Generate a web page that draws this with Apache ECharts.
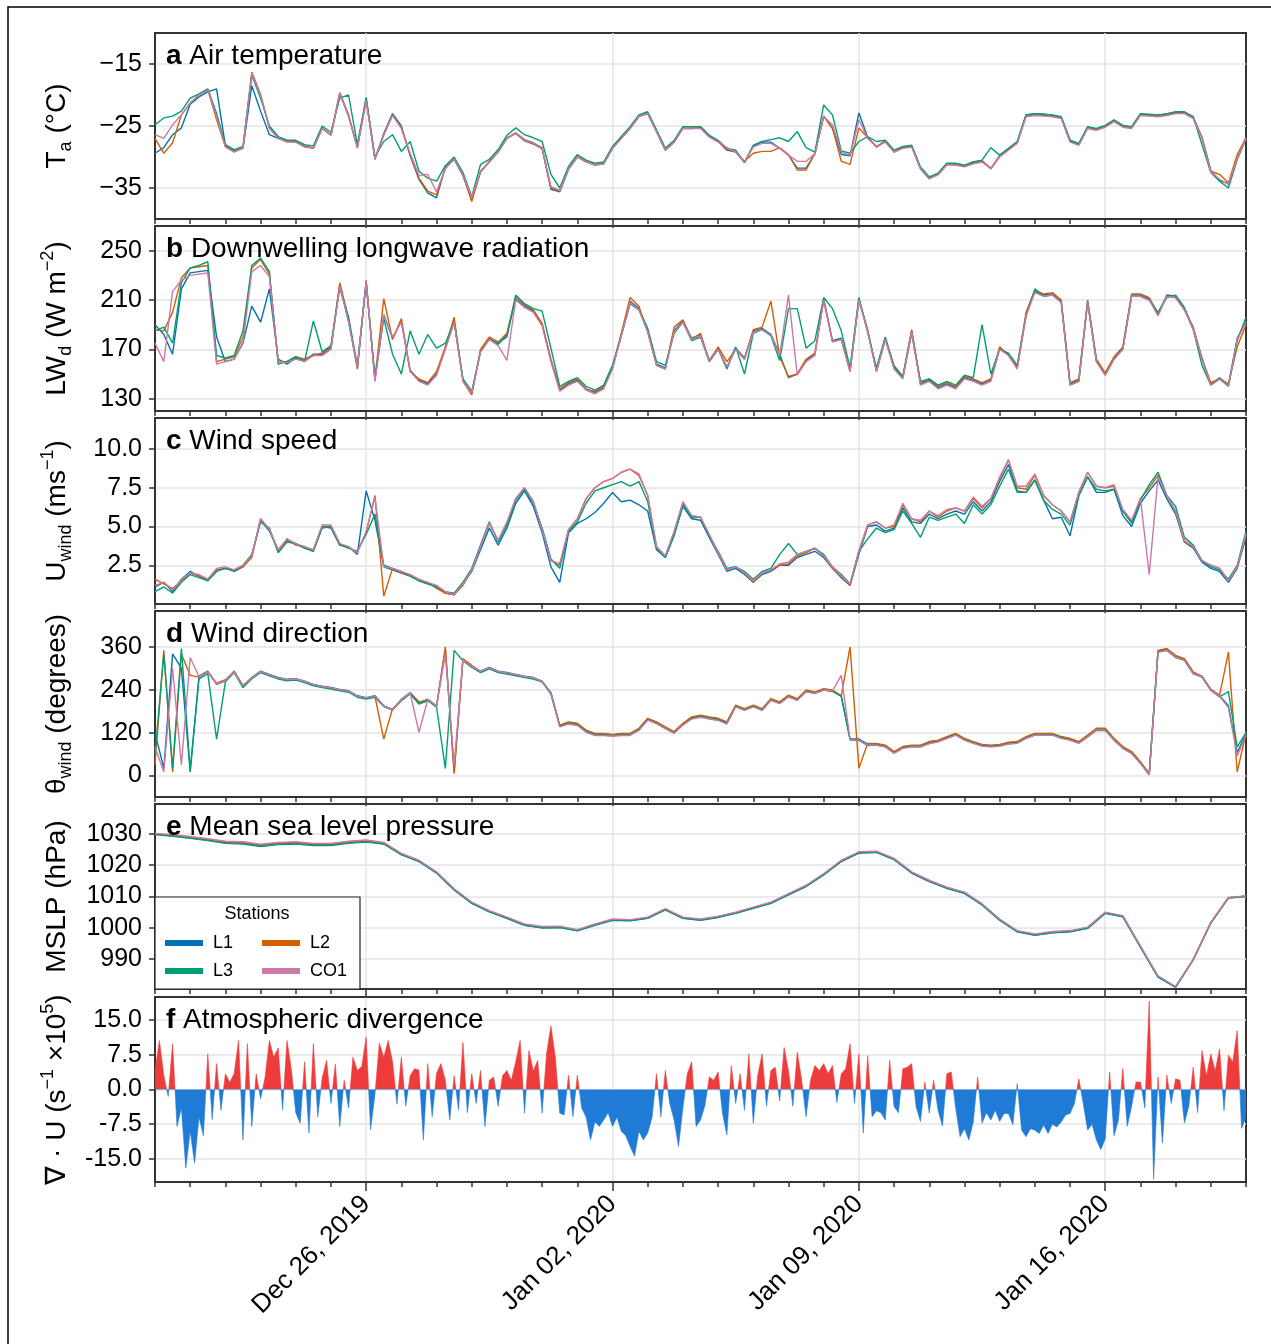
<!DOCTYPE html>
<html><head><meta charset="utf-8">
<script src="https://cdn.jsdelivr.net/npm/echarts@6/dist/echarts.min.js"></script>
<style>html,body{margin:0;padding:0;background:#fff}#c{width:1271px;height:1344px}</style>
</head><body><div id="c"></div><script>
// ---------------- DATA ----------------
const stationNames = ['L1','L2','L3','CO1'];
const xTickDates = ['2019-12-26','2020-01-02','2020-01-09','2020-01-16'];
const xTickLabels = ['Dec 26, 2019','Jan 02, 2020','Jan 09, 2020','Jan 16, 2020'];
const startDate = '2019-12-20';
const spanDays = 31;
const stepStationHours = 6;   // T, LW, wind speed, wind direction
const stepPressureHours = 12; // MSLP
const stepDivHours = 3;       // divergence

const taTicks = [-35,-25,-15];  const taTickLabels = ['−35','−25','−15'];
const lwTicks = [130,170,210,250]; const lwTickLabels = ['130','170','210','250'];
const wsTicks = [2.5,5,7.5,10]; const wsTickLabels = ['2.5','5.0','7.5','10.0'];
const wdTicks = [0,120,240,360]; const wdTickLabels = ['0','120','240','360'];
const pTicks = [990,1000,1010,1020,1030]; const pTickLabels = ['990','1000','1010','1020','1030'];
const divTicks = [-15,-7.5,0,7.5,15]; const divTickLabels = ['-15.0','-7.5','0.0','7.5','15.0'];

// Air temperature (°C), 6-hourly
const taL1 = [-29.4,-28.5,-26.4,-25.3, -21.5,-20.3,-19.5,-19.0, -28.2,-29.0,-28.6,-18.5, -22.6,-26.4,-27.0,-27.4,
 -27.6,-28.2,-28.6,-25.4, -26.5,-19.8,-23.4,-28.4, -20.6,-30.4,-26.2,-23.0, -25.0,-29.8,-33.6,-35.8,
 -36.6,-31.6,-30.4,-33.0, -37.0,-32.4,-30.8,-29.2, -27.0,-26.2,-27.4,-27.9, -28.7,-35.2,-35.6,-32.0,
 -30.0,-30.8,-31.3,-31.1, -28.6,-27.0,-25.4,-23.5, -23.0,-25.9,-28.9,-27.6, -25.4,-25.4,-25.2,-26.6,
 -27.5,-28.9,-29.2,-30.9, -28.2,-27.6,-27.6,-28.6, -29.7,-31.8,-31.8,-29.5, -23.4,-25.4,-29.6,-29.8,
 -22.9,-26.8,-28.4,-27.4, -29.2,-28.4,-28.2,-31.9, -33.5,-32.7,-31.1,-31.3, -31.4,-30.8,-30.6,-31.9,
 -29.8,-28.7,-27.6,-23.2, -23.0,-23.1,-23.3,-23.6, -27.3,-28.0,-25.2,-25.5, -25.0,-24.1,-25.0,-25.2,
 -23.1,-23.2,-23.3,-23.1, -22.8,-22.8,-23.6,-26.8, -32.2,-33.8,-34.3,-30.3, -26.8];
const taL2 = [-27.0,-29.4,-27.7,-23.2, -21.3,-19.9,-19.1,-24.0, -28.3,-29.1,-28.5,-16.3, -19.9,-25.3,-26.9,-27.5,
 -27.5,-28.3,-28.5,-25.3, -26.4,-19.6,-23.2,-28.5, -20.8,-30.2,-26.4,-23.2, -25.3,-29.6,-33.4,-35.5,
 -36.1,-31.8,-30.2,-32.8, -37.2,-32.3,-30.7,-29.1, -26.9,-26.1,-27.2,-27.7, -28.5,-35.0,-35.5,-31.8,
 -29.9,-30.7,-31.2,-31.0, -28.5,-26.9,-25.3,-23.4, -22.9,-25.8,-28.8,-27.5, -25.3,-25.3,-25.3,-26.7,
 -27.5,-28.8,-29.1,-30.7, -29.4,-29.1,-29.1,-28.5, -29.6,-32.1,-32.1,-29.4, -23.4,-25.3,-30.7,-31.2,
 -25.3,-26.9,-28.3,-27.5, -29.1,-28.5,-28.3,-31.8, -33.4,-32.8,-31.2,-31.2, -31.5,-31.0,-30.7,-31.8,
 -29.9,-28.8,-27.7,-23.4, -23.2,-23.3,-23.4,-23.7, -27.5,-28.0,-25.3,-25.6, -25.1,-24.2,-25.1,-25.3,
 -23.2,-23.3,-23.4,-23.2, -22.9,-22.9,-23.7,-26.9, -32.3,-32.8,-34.2,-29.6, -26.9];
const taL3 = [-24.8,-23.7,-23.4,-22.6, -20.5,-19.8,-19.0,-23.0, -28.0,-28.8,-28.3,-16.8, -20.5,-25.0,-26.7,-27.3,
 -27.3,-28.0,-28.2,-25.0, -26.0,-20.5,-20.0,-28.0, -20.4,-30.0,-27.5,-26.4, -29.1,-27.5,-32.3,-33.4,
 -33.9,-31.4,-30.0,-32.5, -36.4,-31.2,-30.4,-28.8, -26.5,-25.3,-26.4,-26.9, -27.5,-32.8,-35.0,-31.5,
 -29.6,-30.5,-31.0,-30.8, -28.3,-26.7,-25.1,-23.2, -22.7,-25.6,-28.6,-27.3, -25.1,-25.1,-25.1,-26.5,
 -27.3,-28.6,-28.9,-30.9, -28.1,-27.5,-27.2,-26.9, -27.5,-25.9,-28.5,-29.2, -21.6,-23.2,-29.0,-29.4,
 -27.5,-26.7,-27.5,-27.3, -28.9,-28.3,-28.1,-31.6, -33.2,-32.6,-31.0,-31.0, -31.3,-30.8,-30.5,-28.5,
 -29.7,-28.6,-27.5,-23.2, -23.0,-23.1,-23.2,-23.5, -27.3,-27.8,-25.1,-25.4, -24.9,-24.0,-24.9,-25.1,
 -23.0,-23.1,-23.2,-23.0, -22.7,-22.7,-23.5,-28.0, -32.5,-33.9,-35.0,-30.4, -27.1];
const taCO1 = [-26.4,-27.0,-24.8,-23.2, -21.3,-20.0,-19.2,-23.5, -28.4,-29.2,-28.6,-16.5, -20.0,-25.4,-27.0,-27.6,
 -27.6,-28.4,-28.6,-25.4, -26.5,-19.7,-23.3,-28.6, -20.9,-30.3,-26.5,-23.3, -25.4,-29.4,-33.0,-32.8,
 -35.6,-31.9,-30.3,-32.9, -36.5,-32.4,-30.8,-29.2, -27.0,-26.2,-27.3,-27.8, -28.6,-34.8,-35.4,-31.9,
 -30.0,-30.8,-31.3,-31.1, -28.6,-27.0,-25.4,-23.5, -23.0,-25.9,-28.9,-27.6, -25.4,-25.4,-25.4,-26.8,
 -27.6,-28.5,-29.2,-30.8, -28.4,-27.8,-27.8,-28.6, -29.7,-30.7,-30.7,-29.5, -23.5,-24.8,-29.2,-29.7,
 -24.0,-27.0,-28.4,-27.6, -29.2,-28.6,-28.4,-31.9, -33.5,-32.9,-31.3,-31.3, -31.6,-31.1,-30.8,-31.9,
 -30.0,-28.9,-27.8,-23.5, -23.3,-23.4,-23.5,-23.8, -27.6,-28.1,-25.4,-25.7, -25.2,-24.3,-25.2,-25.4,
 -23.3,-23.4,-23.5,-23.3, -23.0,-23.0,-23.8,-27.0, -32.4,-33.6,-34.4,-30.2, -27.0];

// Downwelling longwave radiation (W m-2), 6-hourly
const lwL1 = [190,182,166,219, 232,233,234,180, 160,162,175,205, 192,219,162,158, 163,161,166,166, 171,222,193,155,
 225,145,198,179, 193,153,145,142, 150,171,193,145, 134,169,179,174, 182,211,205,201, 190,161,137,142,
 145,138,135,139, 155,182,209,203, 185,158,155,185, 193,179,182,161, 171,155,171,163, 185,187,182,166,
 147,150,161,166, 211,177,179,153, 211,185,153,179, 155,147,185,142, 145,139,142,139, 147,145,142,145,
 171,166,155,198, 217,214,215,209, 142,145,209,161, 150,163,171,214, 214,211,198,214, 213,203,187,163,
 142,147,141,179, 193];
const lwL2 = [186,185,200,228, 236,237,238,160, 162,164,180,236, 243,231,160,160, 164,162,165,167, 172,224,195,154,
 226,146,211,178, 195,152,146,143, 152,172,196,144, 133,170,180,176, 183,213,206,202, 191,162,138,143,
 146,137,136,140, 156,183,212,205, 184,157,154,188, 194,178,183,160, 172,160,170,162, 186,188,209,164,
 148,150,162,167, 210,176,178,152, 210,186,152,178, 157,148,186,143, 146,140,143,140, 148,146,143,146,
 172,165,156,200, 218,215,216,210, 143,146,210,162, 151,164,172,215, 215,212,199,213, 212,202,188,162,
 143,146,142,172, 190];
const lwL3 = [185,188,175,224, 236,238,241,165, 163,165,185,238, 244,233,158,160, 164,160,193,168, 173,220,196,157,
 224,147,195,166, 150,185,166,182, 171,175,192,146, 136,168,178,175, 180,214,207,203, 201,171,140,144,
 147,140,137,141, 157,181,207,202, 187,160,157,183, 192,177,180,160, 170,154,172,150, 183,186,181,161,
 203,203,171,177, 212,203,185,155, 212,184,155,180, 156,148,183,144, 146,141,144,141, 149,147,190,150,
 170,167,157,197, 219,213,214,208, 141,144,208,160, 149,162,170,213, 213,210,200,212, 214,204,186,157,
 141,146,140,177, 196];
const lwCO1 = [175,160,217,226, 230,231,232,158, 160,162,176,233, 238,229,160,159, 162,160,165,165, 170,221,192,156,
 225,144,198,180, 192,152,144,141, 149,170,192,144, 135,168,178,173, 161,210,204,200, 189,160,136,141,
 144,137,134,138, 154,181,208,202, 184,157,154,184, 192,178,181,160, 170,156,170,162, 184,186,181,165,
 214,149,160,165, 210,176,178,152, 210,184,152,178, 154,146,184,141, 144,138,141,138, 146,144,141,144,
 170,165,154,197, 216,213,214,208, 141,144,208,160, 149,162,170,213, 213,210,197,213, 212,202,186,162,
 141,146,140,178, 192];

// Wind speed (m s-1), 6-hourly
const wsL1 = [1.1,1.4,0.8,1.6, 2.1,1.8,1.5,2.2, 2.3,2.1,2.4,3.1, 5.4,4.7,3.5,4.1, 3.9,3.6,3.5,5.0, 4.9,3.8,3.7,3.2,
 7.3,5.4,2.4,2.2, 2.0,1.8,1.5,1.3, 1.1,0.7,0.6,1.3, 2.1,3.5,4.9,3.8, 4.9,6.5,7.3,6.3, 4.6,2.4,1.4,4.6,
 5.2,5.5,5.9,6.5, 7.2,6.6,6.7,6.4, 6.0,3.5,3.0,4.5, 6.3,5.5,5.4,4.3, 3.2,2.1,2.3,1.9, 1.4,1.9,2.1,2.5,
 2.5,3.0,3.2,3.4, 3.0,2.3,1.7,1.2, 3.2,5.0,5.1,4.7, 4.9,6.2,5.3,5.2, 5.8,5.5,5.8,6.0, 5.8,6.6,6.0,6.6,
 7.9,9.0,7.3,7.2, 8.0,6.7,5.5,5.6, 4.4,7.0,8.2,7.2, 7.2,7.4,5.7,5.0, 6.5,7.3,8.0,6.8, 5.8,4.0,3.6,2.7,
 2.3,2.1,1.4,2.3, 4.3];
const wsL2 = [1.6,1.3,1.0,1.5, 2.0,1.8,1.6,2.2, 2.3,2.2,2.4,3.0, 5.5,4.8,3.4,4.2, 3.8,3.7,3.4,5.0, 5.0,3.9,3.6,3.4,
 4.6,7.0,0.5,2.3, 2.0,1.9,1.5,1.4, 1.0,0.7,0.6,1.2, 2.2,3.7,5.2,4.1, 5.2,6.8,7.5,6.6, 4.8,2.8,2.5,4.8,
 5.5,6.8,7.5,7.9, 8.1,8.5,8.7,8.3, 7.0,3.7,3.1,4.6, 6.5,5.7,5.6,4.4, 3.3,2.2,2.4,2.0, 1.4,2.0,2.2,2.5,
 2.6,3.1,3.3,3.6, 3.1,2.3,1.8,1.2, 3.4,5.1,5.3,4.9, 5.0,6.4,5.5,5.3, 6.0,5.6,6.0,6.2, 6.0,6.8,6.2,6.8,
 8.1,9.3,7.5,7.4, 8.3,7.0,6.4,6.0, 5.3,7.2,8.5,7.6, 7.5,7.6,6.0,5.3, 6.8,7.5,8.3,7.0, 6.0,4.0,3.7,2.8,
 2.5,2.3,1.5,2.4, 4.5];
const wsL3 = [0.8,1.1,0.7,1.4, 1.9,1.7,1.5,2.1, 2.3,2.2,2.5,3.2, 5.3,4.9,3.3,4.0, 3.9,3.6,3.4,4.9, 5.0,3.8,3.6,3.4,
 4.5,5.8,2.5,2.3, 2.1,1.8,1.5,1.3, 1.1,0.8,0.7,1.4, 2.3,3.8,5.3,4.0, 5.1,6.7,7.4,6.5, 4.9,2.9,2.3,4.7,
 5.3,6.5,7.3,7.5, 7.7,7.9,7.6,7.9, 6.6,3.6,3.0,4.4, 6.4,5.6,5.6,4.4, 3.4,2.3,2.4,2.1, 1.6,2.1,2.3,3.2,
 3.9,3.2,3.4,3.6, 3.2,2.4,1.9,1.3, 3.4,4.2,4.9,4.6, 4.8,6.0,5.2,4.3, 5.6,5.4,5.6,5.8, 5.2,6.4,5.8,6.4,
 7.6,8.7,7.2,7.2, 8.0,6.7,6.1,5.8, 5.1,7.0,8.2,7.4, 7.3,7.4,6.0,5.2, 6.7,7.7,8.5,7.0, 6.3,4.3,3.8,2.8,
 2.4,2.2,1.6,2.5, 4.7];
const wsCO1 = [1.2,1.4,0.9,1.6, 2.0,1.9,1.6,2.3, 2.4,2.2,2.5,3.1, 5.5,4.8,3.5,4.2, 3.9,3.7,3.5,5.1, 5.1,3.9,3.7,3.3,
 4.7,6.9,2.4,2.3, 2.1,1.9,1.6,1.4, 1.2,0.8,0.6,1.3, 2.2,3.7,5.2,4.1, 5.3,6.8,7.5,6.6, 4.8,2.8,2.6,4.8,
 5.5,6.8,7.5,7.9, 8.1,8.5,8.7,8.4, 7.0,3.7,3.1,4.7, 6.6,5.7,5.6,4.5, 3.3,2.2,2.4,2.0, 1.5,2.0,2.2,2.6,
 2.7,3.2,3.4,3.6, 3.1,2.4,1.8,1.3, 3.4,5.1,5.3,4.9, 5.1,6.5,5.5,5.4, 6.0,5.7,6.1,6.2, 6.0,6.9,6.3,6.8,
 8.2,9.3,7.6,7.6, 8.4,7.0,6.4,6.0, 5.3,7.2,8.5,7.6, 7.5,7.7,6.1,5.4, 6.8,1.9,8.2,7.0, 6.0,4.1,3.7,2.8,
 2.5,2.3,1.5,2.4, 4.5];

// Wind direction (degrees), 6-hourly
const wdL1 = [120,20,340,300, 10,278,292,255, 265,292,250,274, 292,283,274,269, 271,264,255,250, 246,241,237,223,
 218,223,195,185, 213,232,204,213, 195,353,10,325, 306,292,302,292, 288,283,278,274, 264,232,139,148,
 144,125,116,116, 113,116,116,130, 158,148,134,121, 144,162,167,162, 158,148,195,185, 195,185,213,204,
 223,213,237,232, 241,237,223,102, 102,88,88,83, 65,79,83,83, 93,97,107,116, 102,93,85,83,
 85,91,93,107, 116,116,116,107, 102,93,111,130, 130,102,79,65, 37,4,348,353, 334,325,288,278,
 241,223,195,65, 116];
const wdL2 = [30,350,10,340, 280,275,290,258, 268,290,252,272, 290,281,272,267, 269,262,253,248, 244,239,235,221,
 216,221,102,187, 211,230,206,211, 193,360,5,327, 308,290,300,290, 286,281,276,272, 262,230,141,150,
 146,127,118,118, 115,118,118,132, 160,150,136,123, 146,164,169,164, 160,150,197,187, 197,187,215,206,
 225,215,239,234, 243,239,223,360, 20,90,90,85, 67,81,85,85, 95,99,109,118, 104,95,87,85,
 87,93,95,109, 118,118,118,109, 104,95,113,132, 132,104,81,67, 39,6,350,355, 336,327,290,275,
 240,225,345,10, 118];
const wdL3 = [60,340,20,355, 15,270,285,102, 262,288,246,270, 288,279,270,265, 267,260,251,246, 242,237,233,219,
 214,219,193,183, 209,228,200,209, 191,20,350,321, 302,288,298,288, 284,279,274,270, 262,228,137,146,
 142,123,114,114, 111,114,114,128, 156,146,132,119, 142,160,165,160, 156,146,193,183, 193,183,211,202,
 221,211,235,230, 239,235,221,100, 98,84,85,80, 63,77,81,80, 90,95,104,114, 100,91,83,81,
 83,89,91,104, 113,113,114,105, 99,91,108,126, 126,99,76,62, 34,2,345,350, 330,322,284,275,
 238,220,235,80, 120];
const wdCO1 = [80,10,300,30, 330,276,290,256, 266,290,251,272, 291,282,273,268, 270,263,254,249, 245,240,236,222,
 217,222,194,184, 212,231,121,212, 194,340,30,324, 305,291,301,291, 287,282,277,273, 263,231,136,144,
 140,121,112,112, 110,112,112,126, 155,145,131,118, 141,158,163,158, 154,144,192,182, 192,182,210,201,
 220,210,234,230, 239,237,280,100, 99,85,85,80, 62,76,80,80, 89,94,104,113, 99,90,82,80,
 82,88,90,104, 113,113,113,104, 99,90,108,127, 127,99,76,62, 34,2,345,350, 332,322,285,276,
 238,222,190,55, 112];

// Mean sea level pressure (hPa), 12-hourly
const pL1 = [1029.9,1029.4,1028.8,1028.1,1027.3,1027.1,1026.3,1026.9,1027.1,1026.6,
 1026.6,1027.3,1027.7,1026.9,1023.4,1021.2,1017.5,1012.1,1007.8,1005.1,
 1003.0,1000.8,1000.0,1000.1,999.0,1000.8,1002.4,1002.2,1003.0,1005.7,
 1003.0,1002.4,1003.3,1004.6,1006.2,1007.8,1010.5,1013.2,1016.9,1021.2,
 1023.9,1024.1,1021.8,1017.5,1014.8,1012.6,1011.0,1007.3,1002.4,998.7,
 997.6,998.4,998.7,999.8,1004.6,1003.5,993.8,984.2,981.0,989.8,
 1001.6,1009.5,1010.0];
const pL2 = [1030.0,1029.6,1029.0,1028.3,1027.5,1027.3,1026.5,1027.1,1027.3,1026.8,
 1026.8,1027.5,1027.9,1027.1,1023.6,1021.4,1017.7,1012.3,1008.0,1005.3,
 1003.2,1001.0,1000.2,1000.3,999.2,1001.0,1002.6,1002.4,1003.2,1005.9,
 1003.2,1002.6,1003.5,1004.8,1006.4,1008.0,1010.7,1013.4,1017.1,1021.4,
 1024.1,1024.3,1022.0,1017.7,1015.0,1012.8,1011.2,1007.5,1002.6,998.9,
 997.8,998.6,998.9,1000.0,1004.8,1003.7,994.0,984.4,981.0,989.8,
 1001.6,1009.6,1010.1];
const pL3 = [1029.8,1029.3,1028.6,1027.9,1027.0,1026.8,1026.0,1026.6,1026.8,1026.3,
 1026.3,1027.0,1027.4,1026.8,1023.4,1021.3,1017.6,1012.2,1007.9,1005.2,
 1003.0,1000.8,1000.0,1000.1,999.1,1000.9,1002.5,1002.3,1003.1,1005.8,
 1003.1,1002.5,1003.4,1004.7,1006.3,1007.9,1010.6,1013.3,1017.0,1021.3,
 1024.0,1024.2,1021.9,1017.6,1014.9,1012.7,1011.1,1007.4,1002.5,998.8,
 997.7,998.5,998.8,999.9,1004.7,1003.6,993.9,984.3,981.0,989.7,
 1001.5,1009.6,1010.1];
const pCO1 = [1030.2,1029.8,1029.2,1028.5,1027.7,1027.5,1026.7,1027.3,1027.5,1027.0,
 1027.0,1027.7,1028.1,1027.3,1023.8,1021.6,1017.9,1012.5,1008.2,1005.5,
 1003.4,1001.2,1000.4,1000.5,999.4,1001.2,1002.8,1002.6,1003.4,1006.1,
 1003.4,1002.8,1003.7,1005.0,1006.6,1008.2,1010.9,1013.6,1017.3,1021.6,
 1024.3,1024.5,1022.2,1017.9,1015.2,1013.0,1011.4,1007.7,1002.8,999.1,
 998.0,998.8,999.1,1000.2,1005.0,1003.9,994.2,984.6,981.2,989.9,
 1001.7,1009.7,1010.2];

// Atmospheric divergence (s-1 x1e5), 3-hourly
const divergence = [
 4,10.6,3,-1.5,9.9,-8,-4,-17, -9,-15.9,-6,-10,7.7,-6.5,5.6,-4.5,
 3.4,1.5,3.5,10.6,-10.9,9.9,-8,3.4, -2,2.5,10.6,7,9,-4.4,10.6,4.3,
 -5,-7.3,6,-9.4,9.9,-5.9,2.5,6.3, -3,5.5,-8,2,-4,7,4.1,5,
 11.3,-8.7,-1,10,7,10.6,6,-3.2, 7,-3.6,3,4.5,4.2,-10.9,5.6,-5.9,
 3.5,5.6,2,-6.6,3,-4.4,10.2,-5, 3.4,-3,4.1,-8,2,2.7,-3.6,3,
 4.1,2,6,10.6,-5.1,8.4,4,6.3, -5.1,7.7,13.8,7,-5.1,-5.5,3.1,-5.9,
 3.1,-4,-6,-10.9,-7,-8,-6.6,-5, -8,-6,-9,-10,-12.3,-14.4,-9,-10.9,
 -9.4,-6,3.4,-5.9,4.1,-3,-6.6,-12.3, -4,3.4,6,-8,
 -6.6,-3.5,2.7,2,3.8,-5.2,-9.8,5.2, -3,3.4,-4.5,7.7,-7.3,3,7.7,-3.6,
 4.1,4.8,-2.5,9.1,4.1,-3.6,8.1,2, -5.9,2,5.2,4.1,5.6,3.4,5.2,-2.8,
 3.4,4.5,9.9,-3,7.7,-9.4,7.3,-5.9, -4.6,-5,-6.6,6.3,-3.7,-5,4.5,4.8,
 5.6,-3.7,-6.9,1.6,-5.1,2,-4.5,-7.9, 3.4,3.8,-4,-10.2,-8.5,-10.9,-7,2.7,
 -7.3,-5,-6.6,-4.5,-6.9,-5.2,-5.2,-7.6, 1.3,-8.8,-10.2,-8.5,-8.8,-9.5,-7.7,-9.5,
 -7.5,-8.1,-7,-5.5,-5.2,-3,2.3,-3, -8.8,-7.5,-10.9,-13,-10.7,3.8,-10,-6.6,
 4.5,-8,-3.6,1.6,1.6,-4,19.1,-19.4, 2.7,-11.6,3.1,-3,2.3,2,-7.3,-3.6,
 4.8,-5,8.4,3,7.7,4,8.8,-4.6, 7.4,6,12.7,-8.4,-6];

// ---------------- CHART ----------------
const FONT = "'Liberation Sans', Arial, Helvetica, sans-serif";
const COLORS = ['#0072B2','#D55E00','#009E73','#CC79A7'];
const RED = '#EE3B3B', BLUE = '#1F7BD6';
const HOUR = 3600000, DAY = 24 * HOUR;
const START = Date.parse(startDate + 'T00:00:00Z');
const END = START + spanDays * DAY;
const majorX = xTickDates.map(d => Date.parse(d + 'T00:00:00Z'));
const minorX = []; for (let d = 0; d <= spanDays; d++) minorX.push(START + d * DAY);

const layout = [
  {top: 33, height: 186}, {top: 226, height: 185}, {top: 418, height: 186},
  {top: 611, height: 186}, {top: 804, height: 185}, {top: 997, height: 185}
];
const LEFT = 155, WIDTH = 1091;

const panels = [
  {letter:'a', title:'Air temperature', data:[taL1,taL2,taL3,taCO1], step:stepStationHours, min:-40, max:-10, ticks:taTicks, labels:taTickLabels,
   ytitle:'{n|T}{sub|a}{n| (°C)}'},
  {letter:'b', title:'Downwelling longwave radiation', data:[lwL1,lwL2,lwL3,lwCO1], step:stepStationHours, min:120, max:270, ticks:lwTicks, labels:lwTickLabels,
   ytitle:'{n|LW}{sub|d}{n| (W m}{sup|−2}{n|)}'},
  {letter:'c', title:'Wind speed', data:[wsL1,wsL2,wsL3,wsCO1], step:stepStationHours, min:0, max:12, ticks:wsTicks, labels:wsTickLabels,
   ytitle:'{n|U}{sub|wind}{n| (ms}{sup|−1}{n|)}'},
  {letter:'d', title:'Wind direction', data:[wdL1,wdL2,wdL3,wdCO1], step:stepStationHours, min:-60, max:460, ticks:wdTicks, labels:wdTickLabels,
   ytitle:'{n|θ}{sub|wind}{n| (degrees)}'},
  {letter:'e', title:'Mean sea level pressure', data:[pL1,pL2,pL3,pCO1], step:stepPressureHours, min:980.4, max:1039.6, ticks:pTicks, labels:pTickLabels,
   ytitle:'{n|MSLP (hPa)}'},
  {letter:'f', title:'Atmospheric divergence', data:null, step:stepDivHours, min:-20, max:20, ticks:divTicks, labels:divTickLabels,
   ytitle:'{n|∇ · U (s}{sup|−1}{n| ×10}{sup|5}{n|)}'}
];

const AXIS_COLOR = '#333';
const GRID_COLOR = '#e4e4e4';
const grids = [], xAxes = [], yAxes = [], series = [], graphics = [];
const nearestLabel = (vals, labs) => v => { let bi = -1, bd = Infinity; vals.forEach((t,i)=>{const d=Math.abs(t-v); if(d<bd){bd=d;bi=i;}}); return bd < 1e-6 * (Math.abs(v)+1) + 1 ? labs[bi] : ''; };

const richY = {
  n:   {fontSize: 28, lineHeight: 36, fontFamily: FONT, fill: '#000', verticalAlign: 'middle'},
  sub: {fontSize: 18, lineHeight: 18, fontFamily: FONT, fill: '#000', verticalAlign: 'bottom'},
  sup: {fontSize: 18, lineHeight: 18, fontFamily: FONT, fill: '#000', verticalAlign: 'top'}
};

panels.forEach((p, i) => {
  const L = layout[i];
  grids.push({left: LEFT, width: WIDTH, top: L.top, height: L.height, show: true,
    borderColor: AXIS_COLOR, borderWidth: 2, backgroundColor: 'transparent', containLabel: false});
  const isBottom = i === panels.length - 1;
  xAxes.push({type: 'value', gridIndex: i, min: START, max: END, position: 'bottom',
    axisLine: {show: true, onZero: false, lineStyle: {color: AXIS_COLOR, width: 2}},
    axisTick: {show: true, customValues: majorX, length: 9, lineStyle: {color: AXIS_COLOR, width: 1.5}},
    axisLabel: {show: isBottom, customValues: majorX, formatter: nearestLabel(majorX, xTickLabels),
      rotate: 45, fontSize: 26, color: '#000', fontFamily: FONT, margin: 18},
    splitLine: {show: true, lineStyle: {color: GRID_COLOR, width: 1.5}}});
  xAxes.push({type: 'value', gridIndex: i, min: START, max: END, position: 'bottom',
    axisLine: {show: false, onZero: false},
    axisTick: {show: true, customValues: minorX, length: 5, lineStyle: {color: AXIS_COLOR, width: 1.5}},
    axisLabel: {show: false}, splitLine: {show: false}});
  yAxes.push({type: 'value', gridIndex: i, min: p.min, max: p.max, position: 'left',
    axisLine: {show: true, onZero: false, lineStyle: {color: AXIS_COLOR, width: 2}},
    axisTick: {show: true, customValues: p.ticks, length: 6, lineStyle: {color: AXIS_COLOR, width: 1.5}},
    axisLabel: {show: true, customValues: p.ticks, formatter: nearestLabel(p.ticks, p.labels),
      fontSize: 25, color: '#000', fontFamily: FONT, margin: 13},
    splitLine: {show: true, lineStyle: {color: GRID_COLOR, width: 1.5}}});

  if (p.data) {
    p.data.forEach((arr, s) => {
      series.push({type: 'line', name: stationNames[s], xAxisIndex: 2 * i, yAxisIndex: i,
        data: arr.map((v, k) => [START + k * p.step * HOUR, v]),
        symbol: 'none', showSymbol: false, silent: true, z: 2 + s,
        lineStyle: {width: 1.4, color: COLORS[s]}, itemStyle: {color: COLORS[s]}});
    });
  } else {
    // red above zero, blue below: hard colour stop at the zero line of this grid
    const zeroOff = p.max / (p.max - p.min);
    const grad = new echarts.graphic.LinearGradient(0, L.top, 0, L.top + L.height, [
      {offset: 0, color: RED}, {offset: zeroOff, color: RED},
      {offset: zeroOff, color: BLUE}, {offset: 1, color: BLUE}], true);
    series.push({type: 'line', name: 'divergence', xAxisIndex: 2 * i, yAxisIndex: i,
      data: divergence.map((v, k) => [START + k * p.step * HOUR, v]),
      symbol: 'none', showSymbol: false, silent: true,
      lineStyle: {width: 0.6, color: grad}, itemStyle: {color: RED},
      areaStyle: {opacity: 1, color: grad, origin: 0}});
  }

  // panel title
  graphics.push({type: 'text', x: 166, y: L.top + 23, z: 50,
    style: {text: '{b|' + p.letter + '}{n| ' + p.title + '}', align: 'left', verticalAlign: 'middle',
      rich: {b: {fontSize: 28, fontWeight: 'bold', fontFamily: FONT, fill: '#000'},
             n: {fontSize: 28, fontFamily: FONT, fill: '#000'}}}});
  // y-axis title
  graphics.push({type: 'text', x: 57, y: L.top + L.height / 2, rotation: Math.PI / 2, z: 50,
    style: {text: p.ytitle, align: 'center', verticalAlign: 'middle', rich: richY}});
});

// legend box + title
graphics.push({type: 'rect', shape: {x: 155, y: 897, width: 205, height: 92}, z: 100,
  style: {fill: '#fff', stroke: '#222', lineWidth: 1.2}});
graphics.push({type: 'text', x: 257, y: 914, z: 101,
  style: {text: 'Stations', align: 'center', verticalAlign: 'middle', fontSize: 18, fontFamily: FONT, fill: '#000'}});
// outer frame
graphics.push({type: 'rect', shape: {x: 8, y: 7, width: 1290, height: 1360}, z: 0, silent: true,
  style: {fill: 'none', stroke: '#000', lineWidth: 1.5}});

const legendCommon = {orient: 'horizontal', left: 165, itemWidth: 38, itemHeight: 6, itemGap: 29, icon: 'rect',
  padding: 0, z: 120, selectedMode: false,
  textStyle: {fontSize: 18, color: '#000', fontFamily: FONT, padding: [0, 0, 0, 5]}};

const option = {
  animation: false,
  backgroundColor: '#fff',
  textStyle: {fontFamily: FONT},
  grid: grids, xAxis: xAxes, yAxis: yAxes, series: series,
  legend: [Object.assign({data: ['L1', 'L2'], top: 934}, legendCommon),
           Object.assign({data: ['L3', 'CO1'], top: 962}, legendCommon)],
  graphic: graphics
};

const chart = echarts.init(document.getElementById('c'), null, {renderer: 'canvas'});
chart.setOption(option);
</script></body></html>
